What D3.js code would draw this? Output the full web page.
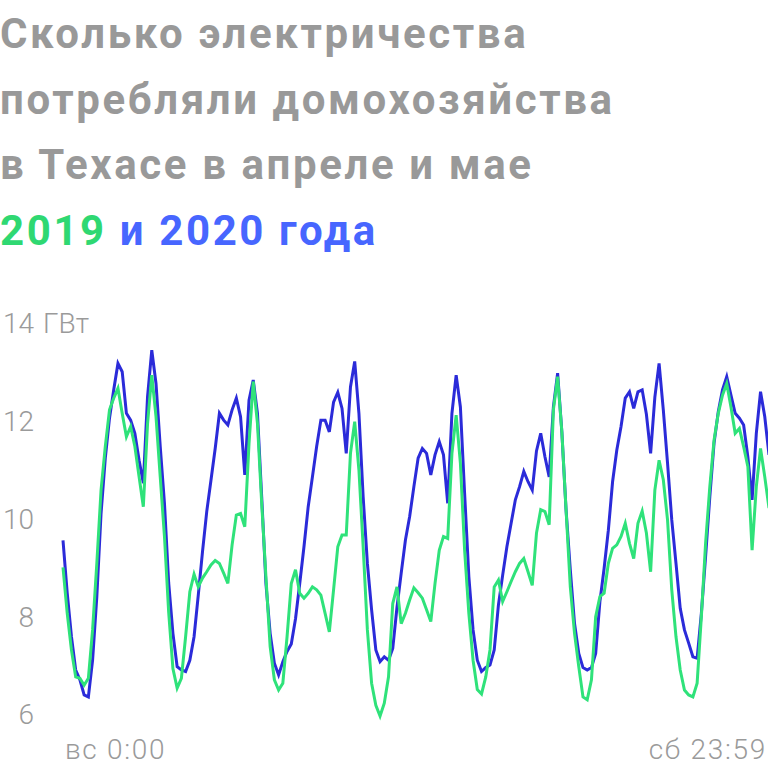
<!DOCTYPE html>
<html>
<head>
<meta charset="utf-8">
<script src="https://cdn.jsdelivr.net/npm/d3@7"></script>
<style>
  html, body { margin: 0; padding: 0; background: #fff; }
  svg { display: block; }
  .title { font-family: Roboto, "Noto Sans", sans-serif; font-weight: 700; font-size: 42px; letter-spacing: 2.6px; fill: #999; }
  .lbl { font-family: Roboto, "Noto Sans", sans-serif; font-weight: 300; font-size: 28px; fill: #9a9a9a; }
  .xlbl { letter-spacing: 1.7px; }
</style>
</head>
<body>
<svg id="chart"></svg>
<script>
const titleLines = ['Сколько электричества', 'потребляли домохозяйства', 'в Техасе в апреле и мае'];
const legendParts = [
  { text: '2019', color: '#2fd872' },
  { text: ' и 2020 года', color: '#4766ff' }
];

// hourly load, GW, Sunday 0:00 .. Saturday 23:00
const load2020 = [
  9.57, 8.49, 7.6, 6.92, 6.72, 6.41, 6.37, 7.12, 8.42, 10.12, 11.25, 12.07,
  12.65, 13.19, 13.02, 12.17, 12.03, 11.76, 11.21, 10.74, 12.51, 13.46, 12.78, 11.49,
  10.33, 8.7, 7.67, 6.99, 6.92, 6.89, 7.12, 7.6, 8.45, 9.34, 10.16, 10.8,
  11.45, 12.17, 12.03, 11.93, 12.24, 12.48, 12.1, 10.91, 12.44, 12.85, 12.17, 10.46,
  8.69, 7.67, 7.06, 6.82, 7.09, 7.3, 7.45, 7.97, 8.69, 9.44, 10.26, 10.87,
  11.49, 12.03, 12.03, 11.79, 12.4, 12.6, 12.27, 11.35, 12.71, 13.23, 12.17, 10.46,
  9.1, 8.15, 7.33, 7.09, 7.19, 7.12, 7.36, 8.2, 8.9, 9.58, 10.06, 10.67,
  11.25, 11.45, 11.35, 10.91, 11.32, 11.59, 11.32, 10.33, 12.17, 12.95, 12.3, 10.53,
  8.83, 7.74, 7.12, 6.89, 6.97, 7.02, 7.33, 8.25, 8.86, 9.44, 9.92, 10.4,
  10.67, 10.98, 10.77, 10.6, 11.4, 11.76, 11.28, 10.87, 12.3, 12.99, 11.79, 10.19,
  8.97, 7.87, 7.26, 6.97, 6.92, 6.97, 7.26, 8.32, 9.0, 9.78, 10.77, 11.42,
  11.9, 12.48, 12.61, 12.27, 12.61, 12.65, 12.15, 11.35, 12.5, 13.19, 12.24, 11.15,
  9.99, 9.1, 8.18, 7.74, 7.47, 7.19, 7.16, 8.08, 9.24, 10.46, 11.56, 12.2,
  12.65, 12.92, 12.54, 12.17, 12.07, 11.93, 11.28, 10.4, 11.76, 12.61, 12.1, 11.32
];

const load2019 = [
  9.02, 8.08, 7.33, 6.78, 6.75, 6.61, 6.75, 7.74, 9.1, 10.6, 11.49, 12.24,
  12.48, 12.68, 12.17, 11.69, 11.9, 11.49, 10.87, 10.26, 11.96, 12.95, 12.1, 10.87,
  9.65, 8.1, 6.95, 6.55, 6.75, 7.6, 8.52, 8.88, 8.62, 8.8, 8.93, 9.07,
  9.16, 9.1, 8.9, 8.69, 9.48, 10.09, 10.12, 9.85, 11.55, 12.82, 11.96, 10.33,
  8.83, 7.4, 6.72, 6.51, 6.65, 7.6, 8.69, 8.97, 8.49, 8.39, 8.49, 8.62,
  8.56, 8.45, 8.08, 7.7, 8.56, 9.44, 9.68, 9.68, 11.35, 12.0, 11.01, 9.44,
  7.74, 6.65, 6.2, 5.98, 6.24, 6.78, 8.28, 8.62, 7.87, 8.08, 8.35, 8.6,
  8.5, 8.39, 8.15, 7.91, 8.69, 9.37, 9.65, 9.61, 11.35, 12.13, 11.15, 9.37,
  8.08, 7.12, 6.52, 6.43, 6.78, 7.33, 8.62, 8.76, 8.32, 8.52, 8.73, 8.93,
  9.1, 9.2, 8.93, 8.65, 9.72, 10.2, 10.16, 9.89, 12.24, 12.92, 11.79, 10.19,
  8.62, 7.67, 6.99, 6.37, 6.31, 6.72, 8.01, 8.42, 8.49, 9.1, 9.41, 9.48,
  9.65, 9.92, 9.51, 9.2, 9.92, 10.17, 9.72, 8.93, 10.6, 11.21, 10.81, 9.99,
  8.56, 7.6, 6.92, 6.51, 6.41, 6.37, 6.65, 8.01, 9.51, 10.67, 11.62, 12.17,
  12.54, 12.78, 12.3, 11.76, 11.86, 11.49, 11.08, 9.37, 10.67, 11.45, 10.87, 10.23
];

const yTicks = [6, 8, 10, 12, 14];
const yUnit = 'ГВт';
const xLabels = ['вс 0:00', 'сб 23:59'];

const width = 768;
const height = 768;

const svg = d3.select('#chart')
  .attr('width', width)
  .attr('height', height);

// title
const title = svg.append('text')
  .attr('class', 'title');

titleLines.forEach((line, i) => {
  title.append('tspan')
    .attr('x', 0)
    .attr('y', 48 + i * 65.7)
    .text(line);
});

const legendLine = title.append('tspan')
  .attr('x', 0)
  .attr('y', 48 + 3 * 65.7);
legendParts.forEach(p => {
  legendLine.append('tspan')
    .style('fill', p.color)
    .text(p.text);
});

// scales
const x = d3.scaleLinear()
  .domain([0, load2020.length - 1])
  .range([63, 769]);

const y = d3.scaleLinear()
  .domain([6, 14])
  .range([715, 323.8]);

// y axis, labels only
const yAxis = svg.append('g')
  .attr('transform', 'translate(34,0)')
  .call(d3.axisLeft(y).tickValues(yTicks).tickSize(0).tickPadding(0));

yAxis.select('.domain').remove();
yAxis.selectAll('text')
  .attr('class', 'lbl')
  .attr('fill', null)
  .attr('font-size', null)
  .attr('font-family', null);

svg.append('text')
  .attr('class', 'lbl')
  .attr('x', 43)
  .attr('y', y(14))
  .attr('dy', '0.32em')
  .text(yUnit);

// x labels at both ends
svg.append('text')
  .attr('class', 'lbl xlbl')
  .attr('x', x(0) + 2)
  .attr('y', 759)
  .text(xLabels[0]);

svg.append('text')
  .attr('class', 'lbl xlbl')
  .attr('x', 767)
  .attr('y', 759)
  .attr('text-anchor', 'end')
  .text(xLabels[1]);

// lines
const line = d3.line()
  .x((d, i) => x(i))
  .y(d => y(d));

svg.append('path')
  .datum(load2020)
  .attr('d', line)
  .attr('fill', 'none')
  .attr('stroke', '#2b2bd9')
  .attr('stroke-width', 3);

svg.append('path')
  .datum(load2019)
  .attr('d', line)
  .attr('fill', 'none')
  .attr('stroke', '#2fe27a')
  .attr('stroke-width', 3);
</script>
</body>
</html>
